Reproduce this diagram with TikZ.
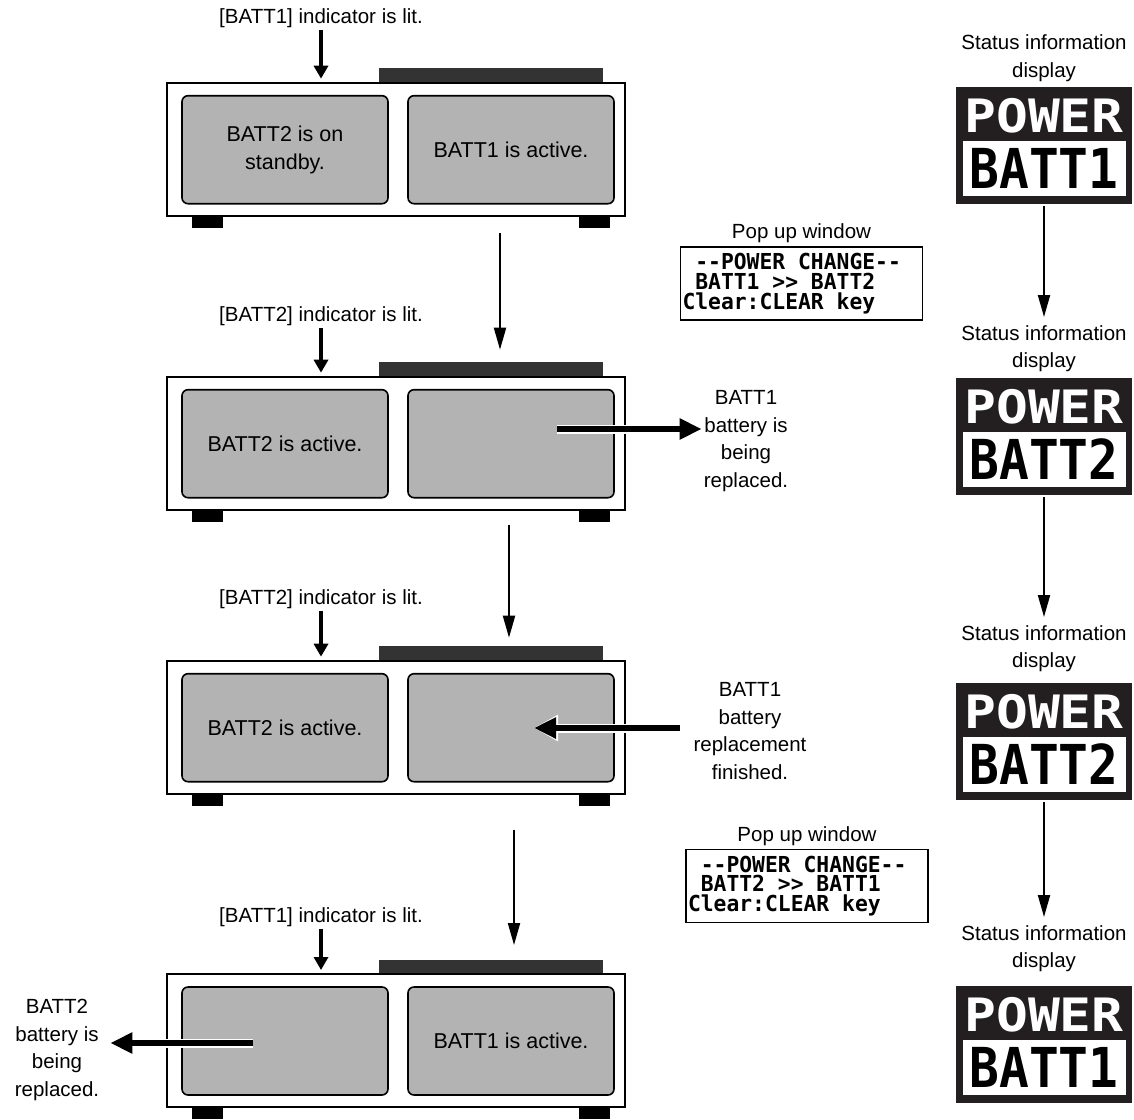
\documentclass[tikz,border=0pt]{standalone}
\usepackage{fontspec}
\setmainfont{Liberation Sans}
\newfontfamily\lcdfont[FakeStretch=0.97,Ligatures=TeXOff]{DejaVu Sans Mono}
\newfontfamily\pixwide[FakeStretch=1.15]{DejaVu Sans Mono}
\newfontfamily\pixnarrow[FakeStretch=0.9]{DejaVu Sans Mono}
\newcommand{\lcdsp}{\hphantom{0}}
\usepackage{xcolor}
\definecolor{panelgrey}{RGB}{179,179,179}
\definecolor{bardark}{RGB}{51,51,51}
\definecolor{dispblack}{RGB}{35,31,32}
\usetikzlibrary{arrows.meta,positioning,calc}
\tikzset{
  unitbox/.style={draw,line width=2pt,fill=white,minimum width=458pt,minimum height=133pt,inner sep=0pt},
  panel/.style={draw,line width=1.6pt,rounded corners=6pt,fill=panelgrey,minimum width=206pt,minimum height=108pt,align=center,font=\fontsize{21.5}{27.5}\selectfont},
  lab/.style={align=center,inner sep=2pt,font=\fontsize{20.5}{27.5}\selectfont},
  popup/.style={draw,line width=1.2pt,minimum width=242pt,minimum height=73pt,text width=238pt,align=left,inner sep=1.5pt,font=\lcdfont\bfseries\fontsize{22}{19.8}\selectfont},
  disp/.style={fill=dispblack,minimum width=176pt,minimum height=117pt,inner sep=0pt},
  pixtop/.style={text=white,inner sep=0pt,font=\pixwide\bfseries\fontsize{46}{46}\selectfont},
  pixbot/.style={text=black,inner sep=0pt,font=\pixnarrow\bfseries\fontsize{55}{55}\selectfont},
  flow/.style={line width=2pt,-{Triangle[length=22pt,width=12pt]}},
  indarr/.style={line width=3.5pt,-{Triangle[length=13pt,width=14pt]},shorten >=3pt},
  bigarr/.style={line width=6pt,-{Triangle[length=22pt,width=20pt]},
    preaction={draw=white,line width=9pt,-{Triangle[length=24pt,width=25pt]}}},
}

\begin{document}
\begin{tikzpicture}[x=1pt,y=-1pt]
    \useasboundingbox (0,0) rectangle (1134,1119);
    % battery units
    \foreach \n/\ty/\ly/\ltxt/\rtxt/\ind in {
      1/82.7/18/{BATT2 is on\\standby.}/{BATT1 is active.}/BATT1,
      2/376.7/316/{BATT2 is active.}/{}/BATT2,
      3/660.7/599/{BATT2 is active.}/{}/BATT2,
      4/974/917/{}/{BATT1 is active.}/BATT1}{
      \fill[bardark] (379,\ty-14.5) rectangle (603,\ty);
      \node[unitbox] (u\n) at (396,\ty+66.5) {};
      \node[panel] (pl\n) at (285,\ty+67) {\ltxt};
      \node[panel] (pr\n) at (511,\ty+67) {\rtxt};
      \fill (192,\ty+133) rectangle (223,\ty+145);
      \fill (579,\ty+133) rectangle (610,\ty+145);
      \node[lab] (ind\n) at (321,\ly) {[\ind] indicator is lit.};
      \draw[indarr] (ind\n) -- (ind\n |- u\n.north);
    }
    \draw[flow] ([shift={(104,16)}]u1.south) -- ([shift={(104,-26)}]u2.north);
    \draw[flow] ([shift={(113,14)}]u2.south) -- ([shift={(113,-22)}]u3.north);
    \draw[flow] ([shift={(118,35)}]u3.south) -- ([shift={(118,-28)}]u4.north);

    % battery being swapped
    \node[lab] (rep2) at (746,441) {BATT1\\battery is\\being\\replaced.};
    \coordinate (r2) at (557,429);
    \draw[bigarr] (r2) -- (r2 -| rep2.west);
    \node[lab] (rep3) at (750,731) {BATT1\\battery\\replacement\\finished.};
    \coordinate (r3) at (534,728);
    \draw[bigarr,shorten <=11pt] (r3 -| rep3.west) -- (r3);
    \node[lab] (rep4) at (57,1050) {BATT2\\battery is\\being\\replaced.};
    \coordinate (r4) at (253,1043);
    \draw[bigarr,shorten >=9pt] (r4) -- (r4 -| rep4.east);

    % pop up windows
    \node[popup] (pop1) at (801.5,283.5) {\lcdsp--POWER\lcdsp CHANGE--\\\lcdsp BATT1\lcdsp>>\lcdsp BATT2\\Clear:CLEAR\lcdsp key};
    \node[lab,above=1pt of pop1] (pop1lab) {Pop up window};
    \node[popup] (pop2) at (807,886) {\lcdsp--POWER\lcdsp CHANGE--\\\lcdsp BATT2\lcdsp>>\lcdsp BATT1\\Clear:CLEAR\lcdsp key};
    \node[lab,above=1pt of pop2] (pop2lab) {Pop up window};

    % status information displays
    \foreach \n/\dy/\sy/\bat in {1/87/58/BATT1, 2/378/348.5/BATT2, 3/683/648.5/BATT2, 4/986/948.5/BATT1}{
      \node[lab] (st\n) at (1044,\sy) {Status information\\display};
      \node[disp] (d\n) at (1044,\dy+58.5) {};
      \fill[white] (963,\dy+54) rectangle (1126,\dy+109);
      \node[pixtop] (pw\n) at (1044,\dy+29) {POWER};
      \node[pixbot] (bt\n) at (1044,\dy+81) {\bat};
    }
    \foreach \a/\b in {1/2,2/3,3/4}
      \draw[flow,shorten <=2pt,shorten >=6pt] (d\a) -- (st\b);
  \end{tikzpicture}
\end{document}
